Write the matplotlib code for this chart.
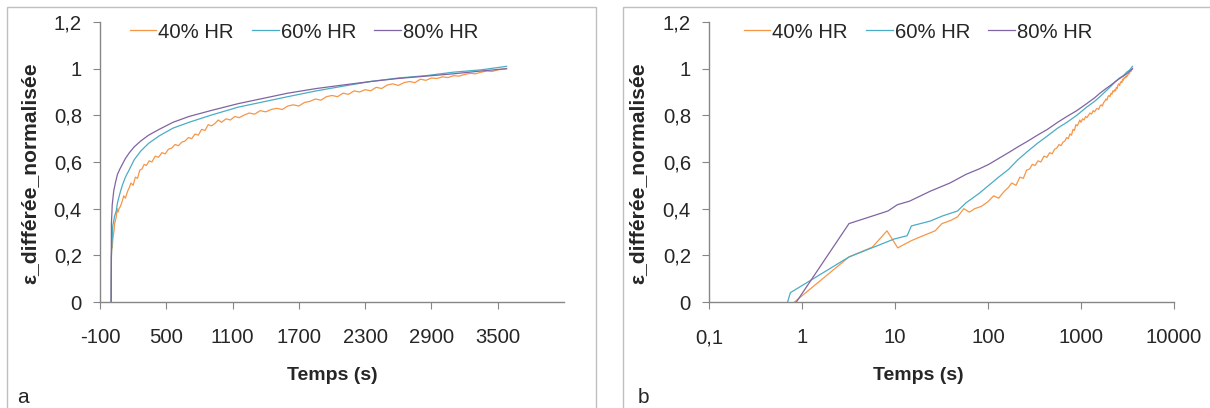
import matplotlib
matplotlib.use("Agg")
import matplotlib.pyplot as plt
from matplotlib.patches import Rectangle
from matplotlib.ticker import FixedLocator, FuncFormatter, NullLocator

plt.rcParams['font.family'] = ['Liberation Sans', 'DejaVu Sans']
plt.rcParams['axes.unicode_minus'] = False

# Data (time in s, normalised delayed strain)
series_names = ["40% HR", "60% HR", "80% HR"]
colors = ["#F79646", "#4BACC6", "#8064A2"]

t_40 = [0.83, 3.2, 5.7, 8.2, 10.7, 15, 20, 27, 32, 40, 47, 55, 63, 72, 85,
        100, 115, 130, 150, 165, 180, 200, 220, 240, 260, 280, 300, 320, 345, 370,
        400, 430, 460, 490, 520, 550, 580, 610, 640, 670, 700, 730, 760, 790, 820,
        850, 880, 910, 940, 970, 1000, 1040, 1080, 1120, 1160, 1200, 1250, 1300,
        1350, 1400, 1450, 1500, 1550, 1600, 1650, 1700, 1750, 1800, 1850, 1900,
        1950, 2000, 2050, 2100, 2150, 2200, 2250, 2300, 2350, 2400, 2450, 2500,
        2550, 2600, 2650, 2700, 2750, 2800, 2850, 2900, 2950, 3000, 3050, 3100,
        3150, 3200, 3250, 3300, 3350, 3400, 3450, 3500, 3580]
v_40 = [0, 0.193, 0.235, 0.305, 0.232, 0.263, 0.284, 0.305, 0.336, 0.35, 0.365,
        0.40, 0.385, 0.40, 0.41,
        0.43, 0.455, 0.445, 0.475, 0.49, 0.51, 0.50, 0.535, 0.53, 0.565, 0.57,
        0.59, 0.585, 0.605, 0.60, 0.625, 0.62, 0.64, 0.635, 0.655, 0.66, 0.675,
        0.67, 0.685, 0.69, 0.705, 0.70, 0.72, 0.715, 0.74, 0.735, 0.76, 0.755,
        0.765, 0.78, 0.77, 0.785, 0.78, 0.795, 0.79, 0.80, 0.81, 0.805, 0.82,
        0.815, 0.825, 0.83, 0.825, 0.84, 0.845, 0.84, 0.855, 0.86, 0.87, 0.865,
        0.88, 0.885, 0.88, 0.895, 0.89, 0.905, 0.90, 0.91, 0.905, 0.92, 0.915,
        0.93, 0.935, 0.928, 0.94, 0.945, 0.94, 0.955, 0.95, 0.96, 0.958, 0.965,
        0.962, 0.97, 0.968, 0.975, 0.98, 0.978, 0.985, 0.99, 0.988, 0.995, 1.0]

t_60 = [0.70, 0.75, 3.2, 9.8, 13.5, 15, 24, 32, 47, 58, 80, 102, 130, 166, 210,
        269, 340, 436, 560, 705, 900, 1150, 1400, 1600, 1860, 2100, 2350, 2600,
        2850, 3100, 3350, 3580]
v_60 = [0, 0.04, 0.193, 0.27, 0.284, 0.326, 0.347, 0.368, 0.39, 0.425, 0.465,
        0.50, 0.535, 0.568, 0.61, 0.647, 0.68, 0.712, 0.745, 0.77, 0.80, 0.835,
        0.86, 0.88, 0.905, 0.925, 0.945, 0.96, 0.97, 0.985, 0.995, 1.01]

t_80 = [0.87, 3.2, 8.4, 10.6, 14.3, 24, 39, 58, 80, 102, 130, 166, 210, 269,
        340, 436, 560, 705, 900, 1150, 1400, 1600, 1860, 2100, 2350, 2600, 2850,
        3100, 3350, 3580]
v_80 = [0, 0.336, 0.39, 0.417, 0.432, 0.475, 0.51, 0.547, 0.57, 0.59, 0.615,
        0.64, 0.665, 0.69, 0.715, 0.74, 0.77, 0.795, 0.82, 0.85, 0.875, 0.895,
        0.915, 0.93, 0.945, 0.958, 0.968, 0.978, 0.99, 1.0]

times = [t_40, t_60, t_80]
values = [v_40, v_60, v_80]

y_ticks = [0, 0.2, 0.4, 0.6, 0.8, 1.0, 1.2]
lin_ticks = [-100, 500, 1100, 1700, 2300, 2900, 3500]
log_ticks = [0.1, 1, 10, 100, 1000, 10000]
log_labels = ["0,1", "1", "10", "100", "1000", "10000"]

W, H = 1210, 408
fig = plt.figure(figsize=(W / 100, H / 100), dpi=100)

axis_grey = "#868686"
text_col = "#262626"


def px_axes(x0, y0, x1, y1):
    return fig.add_axes([x0 / W, 1 - y1 / H, (x1 - x0) / W, (y1 - y0) / H])


# panel borders
for bx0, bx1 in [(7, 596), (623, 1215)]:
    fig.add_artist(Rectangle((bx0 / W, -0.05), (bx1 - bx0) / W, 1 - 7 / H + 0.05,
                             transform=fig.transFigure, fill=False,
                             ec="#BFBFBF", lw=1.0))

ax_a = px_axes(100, 22, 564, 302)
ax_b = px_axes(709, 22, 1174, 302)

for ax in (ax_a, ax_b):
    for name, t, v, c in zip(series_names, times, values, colors):
        ax.plot(t, v, color=c, lw=0.9, label=name)
    ax.set_ylim(0, 1.2)
    ax.yaxis.set_major_locator(FixedLocator(y_ticks))
    ax.yaxis.set_major_formatter(FuncFormatter(lambda v, p: f"{v:g}".replace(".", ",")))
    for s in ("top", "right"):
        ax.spines[s].set_visible(False)
    for s in ("left", "bottom"):
        ax.spines[s].set_color(axis_grey)
        ax.spines[s].set_linewidth(1.0)
    ax.tick_params(axis="y", direction="out", length=5, color=axis_grey,
                   labelsize=14.6, labelcolor=text_col, pad=8)
    ax.tick_params(axis="x", direction="out", length=5, color=axis_grey,
                   labelsize=14.6, labelcolor=text_col, pad=14)
    ax.set_ylabel("ε_différée_normalisée", fontsize=15.2, fontweight="bold",
                  color=text_col, va="center")
    ax.set_xlabel("Temps (s)", fontsize=14, fontweight="bold", color=text_col,
                  va="center")
    ax.set_facecolor("none")

ax_a.yaxis.set_label_coords(-0.151, (302 - 173) / 280)
ax_b.yaxis.set_label_coords(-0.153, (302 - 173) / 280)
ax_a.xaxis.set_label_coords((332 - 100) / 464, -(375 - 302) / 280)
ax_b.xaxis.set_label_coords((918 - 709) / 465, -(375 - 302) / 280)

ax_a.set_xlim(-100, 4100)
ax_a.xaxis.set_major_locator(FixedLocator(lin_ticks))

ax_b.set_xscale("log")
ax_b.set_xlim(0.1, 10000)
ax_b.xaxis.set_major_locator(FixedLocator(log_ticks))
ax_b.xaxis.set_minor_locator(NullLocator())
ax_b.set_xticklabels(log_labels)

leg_kw = dict(loc="center", ncol=3, frameon=False, fontsize=14.6,
              handlelength=1.3, handletextpad=0.1, columnspacing=0.9,
              labelcolor=text_col)
ax_a.legend(bbox_to_anchor=((304 - 100) / 464, 1 - 10 / 280), **leg_kw)
ax_b.legend(bbox_to_anchor=((918 - 709) / 465, 1 - 10 / 280), **leg_kw)

fig.text(17 / W, 1 - 403 / H, "a", fontsize=15, color=text_col, va="baseline")
fig.text(638 / W, 1 - 403 / H, "b", fontsize=15, color=text_col, va="baseline")

fig.savefig("out.png", dpi=100)
